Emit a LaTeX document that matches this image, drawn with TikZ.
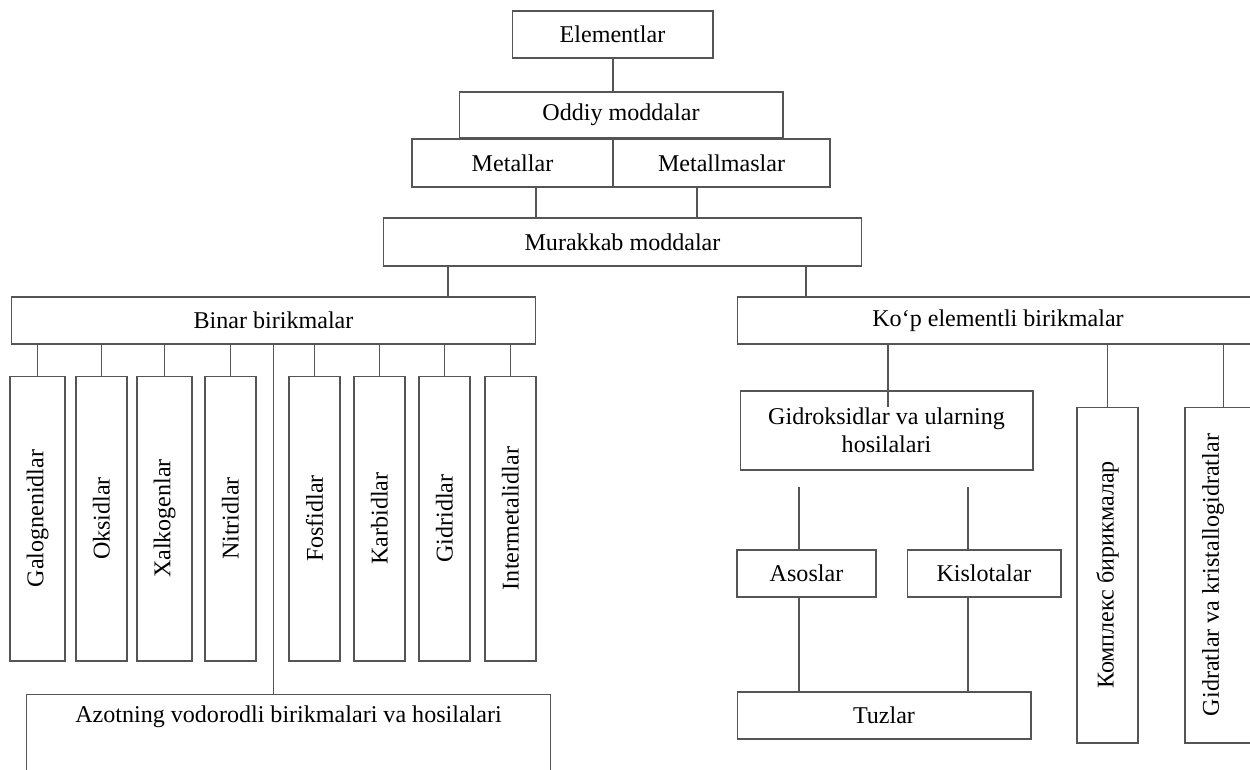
\documentclass[tikz,border=0pt]{standalone}
\usepackage{fontspec}
\setmainfont{Liberation Serif}
\definecolor{linec}{RGB}{85,85,85}

\begin{document}
\begin{tikzpicture}[x=0.02cm, y=-0.02cm,
    cbox/.style={draw=linec, line width=0.6pt, inner sep=0pt, align=center,
        font=\fontsize{13.7pt}{16pt}\selectfont},
    vbox/.style={cbox, rotate=90, minimum width=5.7cm},
    txt/.style={inner sep=0pt, align=center, font=\fontsize{13.7pt}{16pt}\selectfont},
    link/.style={draw=linec, line width=0.6pt}]

    \useasboundingbox (0,0) rectangle (1250,769);
    \clip (0,0) rectangle (1250,769);

    % draw nodes
    \node [cbox, minimum width=4.02cm, minimum height=0.94cm] (elem) at (612.5,34.5) {Elementlar};
    \node [cbox, minimum width=6.48cm, minimum height=0.92cm] (oddiy) at (621,115) {Oddiy moddalar};
    \node [cbox, minimum width=4.02cm, minimum height=0.96cm] (metal) at (512.5,163) {Metallar};
    \node [cbox, minimum width=4.34cm, minimum height=0.96cm] (nometal) at (721.5,163) {Metallmaslar};
    \node [cbox, minimum width=9.58cm, minimum height=0.96cm] (murakkab) at (622.5,242) {Murakkab moddalar};
    \node [cbox, minimum width=10.5cm, minimum height=0.94cm] (binar) at (273.5,320.5) {Binar birikmalar};
    \node [cbox, minimum width=10.44cm, minimum height=0.94cm] (kop) at (998,320.5) {Ko‘p elementli birikmalar};

    \foreach [count=\i] \x/\w/\t in {37.5/1.1/Galognenidlar, 101.5/1.02/Oksidlar,
            164.5/1.1/Xalkogenlar, 230.5/1.02/Nitridlar, 314.5/1.02/Fosfidlar,
            379.5/1.02/Karbidlar, 444.5/1.02/Gidridlar, 510.5/1.02/Intermetalidlar}
        \node [vbox, minimum height=\w cm]
            (b\i) at (\x,518.5) {\t};

    \node [cbox, minimum width=10.5cm, minimum height=1.92cm] (azot) at (288.5,742) {};
    \node [txt] (azottxt) at (288.5,717) {Azotning vodorodli birikmalari va hosilalari};

    \node [cbox, minimum width=5.86cm, minimum height=1.58cm] (gidrok) at (886.5,430.5)
        {Gidroksidlar va ularning\\hosilalari};
    \node [cbox, minimum width=2.78cm, minimum height=0.94cm] (asos) at (806.5,573.5) {Asoslar};
    \node [cbox, minimum width=3.08cm, minimum height=0.94cm] (kislota) at (984,573.5) {Kislotalar};
    \node [cbox, minimum width=5.88cm, minimum height=0.94cm] (tuz) at (884,715.5) {Tuzlar};

    \node [vbox, minimum width=6.72cm, minimum height=1.22cm] (kompleks) at (1107.5,575) {Комплекс бирикмалар};
    \node [vbox, minimum width=6.72cm, minimum height=1.54cm] (gidrat) at (1223.5,575) {};
    \node [txt, rotate=90] (gidrattxt) at (1213,575) {Gidratlar va kristallogidratlar};

    \coordinate (gk) at (888,407);
    \coordinate (ga) at (799,487);
    \coordinate (gs) at (968,487);

    % draw edges
    \draw [link] (elem.south -| 613,0) -- (613,92);
    \draw [link] (metal.south -| 536,0) -- (murakkab.north -| 536,0);
    \draw [link] (nometal.south -| 697,0) -- (murakkab.north -| 697,0);
    \draw [link] (murakkab.south -| 448,0) -- (binar.north -| 448,0);
    \draw [link] (murakkab.south -| 806,0) -- (kop.north -| 806,0);

    \foreach \i in {1,...,8}
        \draw [link] (b\i.east) -- (b\i.east |- binar.south);
    \draw [link] (binar.south) -- (binar.south |- azot.north);

    \draw [link] (gk |- kop.south) -- (gk);
    \draw [link] (ga) -- (ga |- asos.north);
    \draw [link] (gs) -- (gs |- kislota.north);
    \draw [link] (ga |- asos.south) -- (ga |- tuz.north);
    \draw [link] (gs |- kislota.south) -- (gs |- tuz.north);
    \draw [link] (kompleks.east) -- (kompleks.east |- kop.south);
    \draw [link] (gidrat.east) -- (gidrat.east |- kop.south);

\end{tikzpicture}
\end{document}
